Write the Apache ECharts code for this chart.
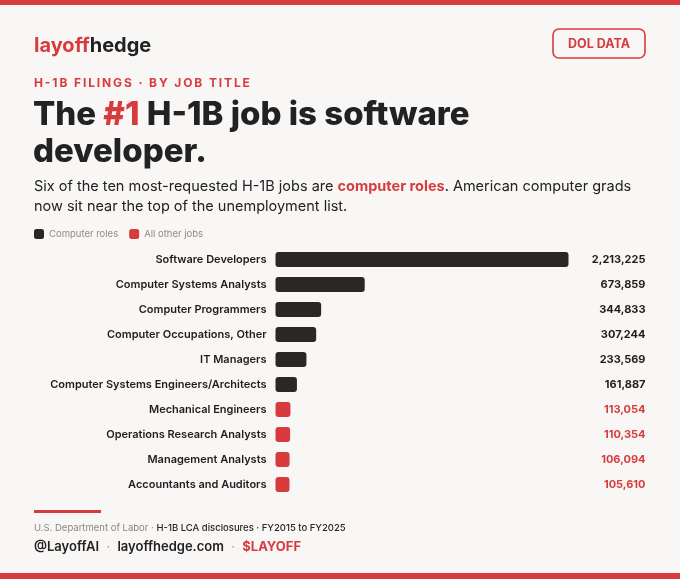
<!DOCTYPE html>
<html>
<head>
<meta charset="utf-8">
<script src="https://cdn.jsdelivr.net/npm/echarts@6/dist/echarts.min.js"></script>
<style>
  html, body { margin: 0; padding: 0; background: #f9f7f5; }
  #chart { width: 680px; height: 579px; }
</style>
</head>
<body>
<div id="chart"></div>
<script>
  const JOBS = [
    "Software Developers",
    "Computer Systems Analysts",
    "Computer Programmers",
    "Computer Occupations, Other",
    "IT Managers",
    "Computer Systems Engineers/Architects",
    "Mechanical Engineers",
    "Operations Research Analysts",
    "Management Analysts",
    "Accountants and Auditors"
  ];
  const FILINGS = [2213225, 673859, 344833, 307244, 233569, 161887, 113054, 110354, 106094, 105610];
  const IS_COMPUTER = [true, true, true, true, true, true, false, false, false, false];

  const DARK = "#2a2727";
  const RED = "#d73b3e";
  const FONT = "Inter";

  const fmt = v => v.toLocaleString("en-US");
  // poor man's letter spacing for the kicker line
  const spaced = s => s.split("").join("\u200A\u200A");

  var option = {
    backgroundColor: "#f9f7f5",
    animation: false,
    textStyle: { fontFamily: FONT },
    legend: {
      left: 34,
      top: 229,
      padding: 0,
      itemWidth: 10,
      itemHeight: 10,
      itemGap: 11,
      icon: "roundRect",
      textStyle: { color: "#8f8b88", fontSize: 9.5, fontFamily: FONT },
      data: ["Computer roles", "All other jobs"]
    },
    grid: { left: 275.5, right: 111.5, top: 247, height: 250 },
    xAxis: {
      type: "value",
      min: 0,
      max: FILINGS[0],
      show: false
    },
    yAxis: [{
      type: "category",
      inverse: true,
      data: JOBS,
      axisLine: { show: false },
      axisTick: { show: false },
      axisLabel: { color: "#1f1d1d", fontSize: 11, fontWeight: 600, margin: 9, fontFamily: FONT }
    }, {
      type: "category",
      inverse: true,
      position: "right",
      data: FILINGS.map(fmt),
      axisLine: { show: false },
      axisTick: { show: false },
      axisLabel: {
        align: "right",
        margin: 77,
        fontSize: 11,
        fontWeight: 700,
        fontFamily: FONT,
        color: (v, i) => IS_COMPUTER[i] ? "#1f1d1d" : RED
      }
    }],
    series: [{
      name: "Computer roles",
      type: "bar",
      stack: "all",
      barWidth: 15,
      itemStyle: { color: DARK, borderRadius: 3 },
      data: FILINGS.map((v, i) => IS_COMPUTER[i] ? v : "-")
    }, {
      name: "All other jobs",
      type: "bar",
      stack: "all",
      barWidth: 15,
      itemStyle: { color: RED, borderRadius: 3 },
      data: FILINGS.map((v, i) => IS_COMPUTER[i] ? "-" : v)
    }],
    graphic: [
      { type: "rect", shape: { x: 0, y: 0, width: 680, height: 5 }, style: { fill: RED } },
      { type: "rect", shape: { x: 0, y: 573, width: 680, height: 6 }, style: { fill: RED } },
      {
        type: "text", x: 34, y: 46,
        style: {
          text: "{r|layoff}{d|hedge}",
          verticalAlign: "middle",
          rich: {
            r: { fill: RED, fontSize: 20, fontWeight: 700, fontFamily: FONT },
            d: { fill: "#222", fontSize: 20, fontWeight: 700, fontFamily: FONT }
          }
        }
      },
      {
        type: "rect", shape: { x: 553, y: 29, width: 92, height: 29, r: 6 },
        style: { fill: "none", stroke: RED, lineWidth: 1.6 }
      },
      {
        type: "text", x: 599, y: 44,
        style: { text: "DOL DATA", fill: RED, fontSize: 12.5, fontWeight: 700, fontFamily: FONT, align: "center", verticalAlign: "middle" }
      },
      {
        type: "text", x: 34, y: 83,
        style: { text: spaced("H-1B FILINGS · BY JOB TITLE"), fill: RED, fontSize: 12, fontWeight: 700, fontFamily: FONT, verticalAlign: "middle" }
      },
      {
        type: "text", x: 33, y: 97,
        style: {
          text: "{d|The }{r|#1}{d| H-1B job is software}\n{d|developer.}",
          verticalAlign: "top",
          rich: {
            d: { fill: "#222", fontSize: 33, fontWeight: 800, fontFamily: FONT, lineHeight: 37 },
            r: { fill: RED, fontSize: 33, fontWeight: 800, fontFamily: FONT, lineHeight: 37 }
          }
        }
      },
      {
        type: "text", x: 34, y: 177,
        style: {
          text: "{d|Six of the ten most-requested H-1B jobs are }{r|computer roles}{d|. American computer grads}\n{d|now sit near the top of the unemployment list.}",
          verticalAlign: "top",
          rich: {
            d: { fill: "#222", fontSize: 14.5, fontFamily: FONT, lineHeight: 20 },
            r: { fill: RED, fontSize: 14.5, fontWeight: 700, fontFamily: FONT, lineHeight: 20 }
          }
        }
      },
      { type: "rect", shape: { x: 34, y: 510, width: 67, height: 3 }, style: { fill: RED } },
      {
        type: "text", x: 34, y: 528,
        style: {
          text: "{g|U.S. Department of Labor · }{d|H-1B LCA disclosures · FY2015 to FY2025}",
          verticalAlign: "middle",
          rich: {
            g: { fill: "#8a8683", fontSize: 9.5, fontFamily: FONT },
            d: { fill: "#2a2727", fontSize: 9.5, fontWeight: 500, fontFamily: FONT }
          }
        }
      },
      {
        type: "text", x: 34, y: 547,
        style: {
          text: "{d|@LayoffAI}{g|  ·  }{d|layoffhedge.com}{g|  ·  }{r|$LAYOFF}",
          verticalAlign: "middle",
          rich: {
            d: { fill: "#222", fontSize: 13, fontWeight: 600, fontFamily: FONT },
            g: { fill: "#999", fontSize: 13, fontFamily: FONT },
            r: { fill: RED, fontSize: 13, fontWeight: 700, fontFamily: FONT }
          }
        }
      }
    ]
  };

  var myChart = echarts.init(document.getElementById("chart"), null, { renderer: "canvas" });
  myChart.setOption(option);
  window.addEventListener("resize", myChart.resize);
</script>
</body>
</html>
